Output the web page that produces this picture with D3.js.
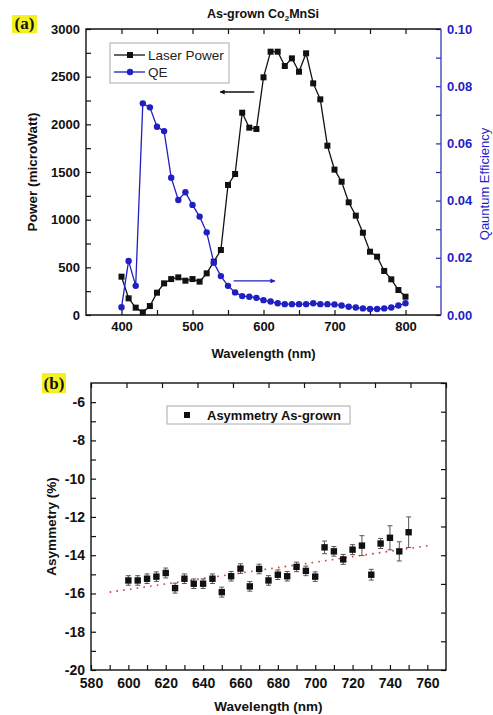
<!DOCTYPE html>
<html>
<head>
<meta charset="utf-8">
<script src="https://cdn.jsdelivr.net/npm/d3@7"></script>
<style>
  body { margin: 0; background: #fff; }
  text { font-family: "Liberation Sans", Arial, sans-serif; }
</style>
</head>
<body>
<svg id="chart" width="493" height="715"></svg>
<script>
// ---- panel (a) data ----
var wavelength = [400,410,420,430,440,450,460,470,480,490,500,510,520,530,540,550,560,570,580,590,
                  600,610,620,630,640,650,660,670,680,690,700,710,720,730,740,750,760,770,780,790,800];
var laserPower = [402,175,77,28,94,234,332,377,395,360,377,350,437,559,682,1364,1479,2122,1965,1951,
                  2493,2762,2762,2612,2692,2552,2745,2430,2262,1776,1525,1398,1182,1042,863,664,612,462,374,262,192];
var qe = [0.0027,0.0189,0.0102,0.0740,0.0726,0.0658,0.0643,0.0480,0.0402,0.0429,0.0385,0.0344,0.0289,0.0183,
          0.0136,0.0102,0.0079,0.0066,0.0064,0.0060,0.0052,0.0047,0.0041,0.0038,0.0038,0.0038,0.0038,0.0041,
          0.0038,0.0038,0.0037,0.0033,0.0029,0.0026,0.0023,0.0021,0.0021,0.0023,0.0026,0.0033,0.0041];
var powerTicks = [0,250,500,750,1000,1250,1500,1750,2000,2250,2500,2750,3000];
var powerLabels = [0,500,1000,1500,2000,2500,3000];
var qeTicks = [0,0.01,0.02,0.03,0.04,0.05,0.06,0.07,0.08,0.09,0.10];
var qeLabels = [0,0.02,0.04,0.06,0.08,0.10];
var wlTicksA = [400,450,500,550,600,650,700,750,800];
var wlLabelsA = [400,500,600,700,800];
// arrows: [x1, y1, x2, y2] in data units
var powerArrow = [587, 2339, 539, 2339];
var qeArrow = [558, 0.0119, 616, 0.0119];

// ---- panel (b) data ----
var asymWl = [600,605,610,615,620,625,630,635,640,645,650,655,660,665,670,675,680,685,690,695,
              700,705,710,715,720,725,730,735,740,745,750];
var asym = [-15.32,-15.32,-15.23,-15.12,-14.93,-15.72,-15.23,-15.49,-15.49,-15.23,-15.93,-15.10,-14.70,-15.63,
            -14.72,-15.32,-15.02,-15.10,-14.61,-14.82,-15.12,-13.59,-13.80,-14.22,-13.71,-13.50,-15.02,-13.39,
            -13.09,-13.80,-12.80];
var asymErr = [0.25,0.25,0.25,0.25,0.26,0.26,0.25,0.25,0.25,0.25,0.26,0.25,0.25,0.25,0.25,0.25,0.25,0.25,0.25,0.25,
               0.25,0.33,0.25,0.26,0.26,0.52,0.28,0.26,0.63,0.5,0.8];
var trendWl = [590, 762];
var trendVal = [-15.93, -13.48];
var asymTicks = [-20,-19,-18,-17,-16,-15,-14,-13,-12,-11,-10,-9,-8,-7,-6];
var asymLabels = [-20,-18,-16,-14,-12,-10,-8,-6];
var wlTicksB = [580,590,600,610,620,630,640,650,660,670,680,690,700,710,720,730,740,750,760];
var wlLabelsB = [580,600,620,640,660,680,700,720,740,760];

var svg = d3.select("#chart");
var blue = "#1f1fc4", blueAxis = "#4646b8";

function styleAxis(g, color, fontSize, bold) {
  g.select(".domain").remove();
  g.selectAll(".tick line").attr("stroke", color).attr("stroke-width", 1.2);
  g.selectAll(".tick text").attr("fill", color).style("font-size", fontSize + "px")
    .style("font-weight", bold ? "bold" : "normal");
}
function labelOnly(list) {
  return function(d) { return list.indexOf(d) >= 0 ? d : ""; };
}

// ================= panel (a) =================
var A = {l: 86, r: 441, t: 29, b: 315};
var xA = d3.scaleLinear().domain([350, 850]).range([A.l, A.r]);
var yP = d3.scaleLinear().domain([0, 3000]).range([A.b, A.t]);
var yQ = d3.scaleLinear().domain([0, 0.10]).range([A.b, A.t]);

svg.append("g").attr("transform", "translate(0," + A.b + ")")
  .call(d3.axisBottom(xA).tickValues(wlTicksA).tickSize(-5).tickPadding(7).tickFormat(labelOnly(wlLabelsA)))
  .call(function(g){ styleAxis(g, "#111", 13, true); });
svg.append("g").attr("transform", "translate(0," + A.t + ")")
  .call(d3.axisTop(xA).tickValues(wlTicksA).tickSize(-5).tickFormat(""))
  .call(function(g){ styleAxis(g, "#111", 13, true); });
svg.append("g").attr("transform", "translate(" + A.l + ",0)")
  .call(d3.axisLeft(yP).tickValues(powerTicks).tickSize(-5).tickPadding(6).tickFormat(labelOnly(powerLabels)))
  .call(function(g){ styleAxis(g, "#111", 13, true); });
svg.append("g").attr("transform", "translate(" + A.r + ",0)")
  .call(d3.axisRight(yQ).tickValues(qeTicks).tickSize(-5).tickPadding(6)
        .tickFormat(function(d){ return qeLabels.some(function(v){ return Math.abs(v - d) < 1e-9; }) ? d3.format(".2f")(d) : ""; }))
  .call(function(g){ styleAxis(g, blue, 13, true); });

// frame
svg.append("path").attr("d", "M" + A.r + "," + A.t + "H" + A.l + "V" + A.b + "H" + A.r)
  .attr("fill", "none").attr("stroke", "#111").attr("stroke-width", 1.4);
svg.append("line").attr("x1", A.r).attr("x2", A.r).attr("y1", A.t).attr("y2", A.b)
  .attr("stroke", blueAxis).attr("stroke-width", 1.4);

// laser power
var powerLine = d3.line().x(function(d, i){ return xA(wavelength[i]); }).y(function(d){ return yP(d); });
svg.append("path").datum(laserPower).attr("d", powerLine)
  .attr("fill", "none").attr("stroke", "#111").attr("stroke-width", 1.3);
svg.selectAll(".pw").data(laserPower).enter().append("rect").attr("class", "pw")
  .attr("x", function(d, i){ return xA(wavelength[i]) - 3; })
  .attr("y", function(d){ return yP(d) - 3; })
  .attr("width", 6).attr("height", 6).attr("fill", "#111");

// QE
var qeLine = d3.line().x(function(d, i){ return xA(wavelength[i]); }).y(function(d){ return yQ(d); });
svg.append("path").datum(qe).attr("d", qeLine)
  .attr("fill", "none").attr("stroke", blue).attr("stroke-width", 1.3);
svg.selectAll(".qe").data(qe).enter().append("circle").attr("class", "qe")
  .attr("cx", function(d, i){ return xA(wavelength[i]); })
  .attr("cy", function(d){ return yQ(d); })
  .attr("r", 3.2).attr("fill", blue);

// arrows
var defs = svg.append("defs");
[["ahk", "#111"], ["ahb", blue]].forEach(function(m){
  defs.append("marker").attr("id", m[0]).attr("viewBox", "0 0 10 10").attr("refX", 9).attr("refY", 5)
    .attr("markerWidth", 7).attr("markerHeight", 5).attr("orient", "auto").attr("markerUnits", "userSpaceOnUse")
    .append("path").attr("d", "M0,0L10,5L0,10Z").attr("fill", m[1]);
});
svg.append("line").attr("x1", xA(powerArrow[0])).attr("y1", yP(powerArrow[1]))
  .attr("x2", xA(powerArrow[2])).attr("y2", yP(powerArrow[3]))
  .attr("stroke", "#111").attr("stroke-width", 1.3).attr("marker-end", "url(#ahk)");
svg.append("line").attr("x1", xA(qeArrow[0])).attr("y1", yQ(qeArrow[1]))
  .attr("x2", xA(qeArrow[2])).attr("y2", yQ(qeArrow[3]))
  .attr("stroke", blue).attr("stroke-width", 1.3).attr("marker-end", "url(#ahb)");

// legend (a)
var legA = svg.append("g").attr("transform", "translate(110,43)");
legA.append("rect").attr("width", 119).attr("height", 40).attr("fill", "#fff")
  .attr("stroke", "#aaa").attr("stroke-width", 1);
[["Laser Power", "#111", "sq"], ["QE", blue, "ci"]].forEach(function(e, i){
  var yy = 12 + i * 17;
  legA.append("line").attr("x1", 4).attr("x2", 35).attr("y1", yy).attr("y2", yy)
    .attr("stroke", e[1]).attr("stroke-width", 1.3);
  if (e[2] === "sq") legA.append("rect").attr("x", 17).attr("y", yy - 3).attr("width", 6).attr("height", 6).attr("fill", e[1]);
  else legA.append("circle").attr("cx", 20).attr("cy", yy).attr("r", 3.2).attr("fill", e[1]);
  legA.append("text").attr("x", 38).attr("y", yy + 5).text(e[0])
    .style("font-size", "13.5px").attr("fill", "#222");
});

// titles (a)
var title = svg.append("text").attr("x", 263).attr("y", 18).attr("text-anchor", "middle")
  .style("font-size", "12.5px").style("font-weight", "bold").attr("fill", "#111");
title.append("tspan").text("As-grown Co");
title.append("tspan").text("2").attr("dy", 3).style("font-size", "8px");
title.append("tspan").text("MnSi").attr("dy", -3);

svg.append("text").attr("transform", "translate(37," + ((A.t + A.b) / 2) + ") rotate(-90)")
  .attr("text-anchor", "middle").text("Power (microWatt)")
  .style("font-size", "13.5px").style("font-weight", "bold").attr("fill", "#111");
svg.append("text").attr("transform", "translate(489," + ((A.t + A.b) / 2 + 12) + ") rotate(-90)")
  .attr("text-anchor", "middle").text("Qauntum Efficiency")
  .style("font-size", "13px").attr("fill", blue);
svg.append("text").attr("x", (A.l + A.r) / 2).attr("y", 358).attr("text-anchor", "middle")
  .text("Wavelength (nm)").style("font-size", "13px").style("font-weight", "bold").attr("fill", "#111");

// ================= panel (b) =================
var B = {l: 91, r: 446, t: 383, b: 670};
var xB = d3.scaleLinear().domain([580, 770]).range([B.l, B.r]);
var yB = d3.scaleLinear().domain([-20, -5]).range([B.b, B.t]);
var mirror = d3.scaleLinear().domain([0, 10]);

svg.append("g").attr("transform", "translate(0," + B.b + ")")
  .call(d3.axisBottom(xB).tickValues(wlTicksB).tickSize(-5).tickPadding(8).tickFormat(labelOnly(wlLabelsB)))
  .call(function(g){ styleAxis(g, "#111", 14, true); });
svg.append("g").attr("transform", "translate(" + B.l + ",0)")
  .call(d3.axisLeft(yB).tickValues(asymTicks).tickSize(-5).tickPadding(6).tickFormat(labelOnly(asymLabels)))
  .call(function(g){ styleAxis(g, "#111", 14, true); });
svg.append("g").attr("transform", "translate(0," + B.t + ")")
  .call(d3.axisTop(mirror.copy().range([B.l, B.r])).ticks(10).tickSize(-5).tickFormat(""))
  .call(function(g){ styleAxis(g, "#111", 14, true); });
svg.append("g").attr("transform", "translate(" + B.r + ",0)")
  .call(d3.axisRight(mirror.copy().range([B.b, B.t])).ticks(10).tickSize(-5).tickFormat(""))
  .call(function(g){ styleAxis(g, "#111", 14, true); });
svg.append("rect").attr("x", B.l).attr("y", B.t).attr("width", B.r - B.l).attr("height", B.b - B.t)
  .attr("fill", "none").attr("stroke", "#111").attr("stroke-width", 1.4);

// trend line
svg.append("line").attr("x1", xB(trendWl[0])).attr("y1", yB(trendVal[0]))
  .attr("x2", xB(trendWl[1])).attr("y2", yB(trendVal[1]))
  .attr("stroke", "#d43a3a").attr("stroke-width", 1.6).attr("stroke-dasharray", "1.6,5.2");

// error bars
var eb = svg.selectAll(".eb").data(asym).enter().append("g").attr("class", "eb");
eb.append("line")
  .attr("x1", function(d, i){ return xB(asymWl[i]); }).attr("x2", function(d, i){ return xB(asymWl[i]); })
  .attr("y1", function(d, i){ return yB(d + asymErr[i]); }).attr("y2", function(d, i){ return yB(d - asymErr[i]); })
  .attr("stroke", "#555").attr("stroke-width", 1);
[1, -1].forEach(function(s){
  eb.append("line")
    .attr("x1", function(d, i){ return xB(asymWl[i]) - 2.5; }).attr("x2", function(d, i){ return xB(asymWl[i]) + 2.5; })
    .attr("y1", function(d, i){ return yB(d + s * asymErr[i]); }).attr("y2", function(d, i){ return yB(d + s * asymErr[i]); })
    .attr("stroke", "#555").attr("stroke-width", 1);
});
svg.selectAll(".as").data(asym).enter().append("rect").attr("class", "as")
  .attr("x", function(d, i){ return xB(asymWl[i]) - 3.2; })
  .attr("y", function(d){ return yB(d) - 3.2; })
  .attr("width", 6.4).attr("height", 6.4).attr("fill", "#111");

// legend (b)
var legB = svg.append("g").attr("transform", "translate(167,406)");
legB.append("rect").attr("width", 183).attr("height", 18).attr("fill", "#fff")
  .attr("stroke", "#aaa").attr("stroke-width", 1);
legB.append("rect").attr("x", 17).attr("y", 6).attr("width", 6).attr("height", 6).attr("fill", "#111");
legB.append("text").attr("x", 40).attr("y", 13.5).text("Asymmetry As-grown")
  .style("font-size", "13px").style("font-weight", "bold").attr("fill", "#111");

svg.append("text").attr("transform", "translate(56," + ((B.t + B.b) / 2) + ") rotate(-90)")
  .attr("text-anchor", "middle").text("Asymmetry (%)")
  .style("font-size", "13.5px").style("font-weight", "bold").attr("fill", "#111");
svg.append("text").attr("x", (B.l + B.r) / 2).attr("y", 711).attr("text-anchor", "middle")
  .text("Wavelength (nm)").style("font-size", "13.5px").style("font-weight", "bold").attr("fill", "#111");

// panel labels
[["(a)", 12, 15, 25, 18], ["(b)", 42, 373, 24, 20]].forEach(function(p){
  svg.append("rect").attr("x", p[1]).attr("y", p[2]).attr("width", p[3]).attr("height", p[4]).attr("fill", "#f5f11e");
  svg.append("text").attr("x", p[1] + p[3] / 2).attr("y", p[2] + p[4] - 4).attr("text-anchor", "middle")
    .text(p[0]).style("font-family", "'Liberation Serif', 'Times New Roman', serif")
    .style("font-size", "17px").style("font-weight", "bold").attr("fill", "#111");
});
</script>
</body>
</html>
